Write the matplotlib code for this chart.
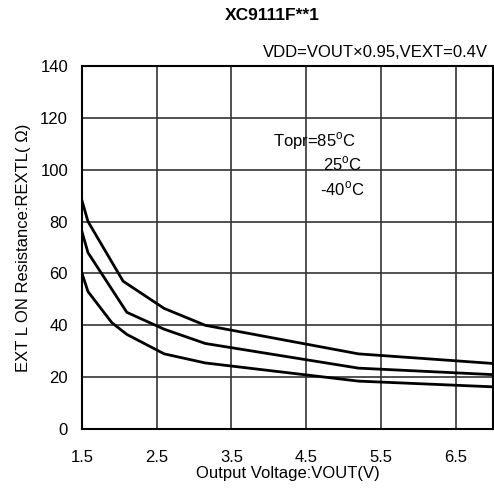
import matplotlib
matplotlib.use("Agg")
from matplotlib import pyplot as plt

plt.rcParams['font.family'] = ['Liberation Sans', 'DejaVu Sans']

# 85C curve
x_85 = [1.5, 1.58, 2.05, 2.6, 3.15, 5.2, 7.0]
y_85 = [88, 80, 57, 46.5, 40, 29, 25.3]
# 25C curve
x_25 = [1.5, 1.58, 2.1, 2.6, 3.15, 5.2, 7.0]
y_25 = [76, 68, 45, 38.5, 33, 23.5, 21]
# -40C curve
x_m40 = [1.5, 1.58, 1.9, 2.1, 2.6, 3.15, 5.2, 7.0]
y_m40 = [60, 53, 41, 36.5, 29, 25.5, 18.5, 16.3]

xticks = [1.5, 2.5, 3.5, 4.5, 5.5, 6.5]
yticks = [0, 20, 40, 60, 80, 100, 120, 140]

fig = plt.figure(figsize=(4.94, 4.91), dpi=100)
ax = fig.add_axes([0.166, 0.126, 0.832, 0.740])

for xs, ys in [(x_85, y_85), (x_25, y_25), (x_m40, y_m40)]:
    ax.plot(xs, ys, color='black', lw=2.0, zorder=3)

ax.set_xlim(1.5, 7.0)
ax.set_ylim(0, 140)
ax.set_xticks(xticks)
ax.set_yticks(yticks)
ax.grid(True, color='#333333', lw=1.2)
ax.tick_params(length=0, labelsize=12)
ax.tick_params(axis='x', pad=15)
ax.tick_params(axis='y', pad=10)
for s in ax.spines.values():
    s.set_color('black')
    s.set_linewidth(1.5)

ax.set_xlabel("Output Voltage:VOUT(V)", fontsize=12, labelpad=1)
ax.set_ylabel("EXT L ON Resistance:REXTL( Ω)", fontsize=12, labelpad=7)

deg = r"$^\mathregular{o}$"
ax.text(4.05, 110.8, "Topr=85" + deg + "C", fontsize=12, va='center')
ax.text(4.73, 102, "25" + deg + "C", fontsize=12, va='center')
ax.text(4.69, 92.6, "-40" + deg + "C", fontsize=12, va='center')

fig.text(0.551, 0.969, "XC9111F**1", fontsize=12.5, fontweight='bold', ha='center', va='center')
fig.text(0.988, 0.894, "VDD=VOUT×0.95,VEXT=0.4V", fontsize=12, ha='right', va='center')

fig.savefig("out.png", dpi=100)
